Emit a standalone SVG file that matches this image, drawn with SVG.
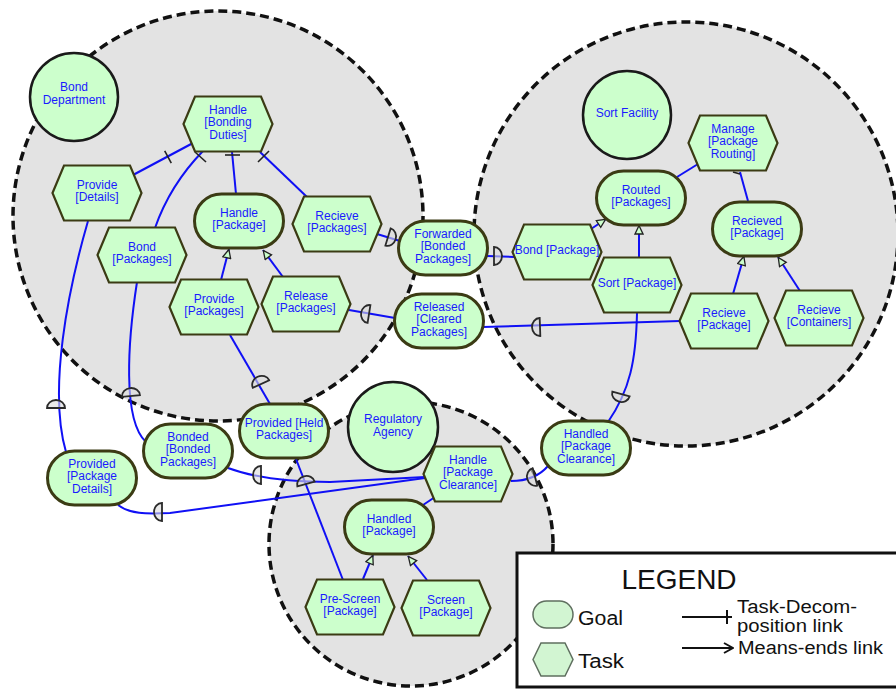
<svg xmlns="http://www.w3.org/2000/svg" xmlns:xlink="http://www.w3.org/1999/xlink" width="896" height="689" viewBox="0 0 896 689">
<style>
.bnd{fill:#e3e3e3;stroke:#111;stroke-width:3.5;stroke-dasharray:9 5}
.act{fill:#ccffcc;stroke:#1a1a1a;stroke-width:2.5}
.lk{fill:none;stroke:#1010f5;stroke-width:2}
.tk{fill:none;stroke:#222;stroke-width:1.6}
.t{font-family:"Liberation Sans",Arial,sans-serif;font-size:12px;fill:#1a1aff;text-anchor:middle}
.lg{font-family:"Liberation Sans",Arial,sans-serif;fill:#111}
</style>
<defs>
<polygon id="hex" points="-44.5,0 -33,-27.5 33,-27.5 44.5,0 33,27.5 -33,27.5" fill="#ccffcc" stroke="#3b3b14" stroke-width="2.2"/>
<rect id="goal" x="-44.5" y="-27" width="89" height="54" rx="27" fill="#ccffcc" stroke="#3b3b14" stroke-width="3"/>
<path id="dep" d="M0,-9 A8,9 0 0 1 0,9 Z" fill="#dcdcdc" fill-opacity="0.6" stroke="#2a2a2a" stroke-width="1.8"/>
<marker id="me" viewBox="0 0 10 10" refX="10" refY="5" markerWidth="10" markerHeight="10" markerUnits="userSpaceOnUse" orient="auto">
<path d="M1,1 L9.5,5 L1,9 Z" fill="#ccffcc" stroke="#222" stroke-width="1.3"/>
</marker>
<marker id="lgarrow" viewBox="0 0 12 12" refX="11" refY="6" markerWidth="12" markerHeight="12" markerUnits="userSpaceOnUse" orient="auto">
<path d="M2,1 L11,6 L2,11" fill="none" stroke="#111" stroke-width="2"/>
</marker>
</defs>

<g id="boundaries">
<circle class="bnd" cx="218" cy="216" r="205"/>
<circle class="bnd" cx="686" cy="234" r="212"/>
<circle class="bnd" cx="411" cy="544" r="142"/>
</g>

<g id="connectors">
<!-- task decomposition -->
<path class="lk" d="M133,175 L193,143"/>
<path class="lk" d="M155,228 Q170,185 203,151"/>
<path class="lk" d="M236,194 L232,152"/>
<path class="lk" d="M307,197 L260,152"/>
<path class="lk" d="M677,177 L698,164"/>
<path class="lk" d="M748,201 L740,172"/>
<path class="lk" d="M435,497 L423,505"/>
<path class="tk" d="M164.7,150.8 L171.3,163.2"/>
<path class="tk" d="M195,152 L206,162"/>
<path class="tk" d="M225,155 L240,155"/>
<path class="tk" d="M258,162 L269,151"/>
<path class="tk" d="M733,172 L740,174"/>
<!-- means-ends -->
<path class="lk" d="M221,280 L229,249" marker-end="url(#me)"/>
<path class="lk" d="M283,277 L263,250" marker-end="url(#me)"/>
<path class="lk" d="M591,229 L606,219" marker-end="url(#me)"/>
<path class="lk" d="M639,258 L639,225" marker-end="url(#me)"/>
<path class="lk" d="M733,294 L744,256" marker-end="url(#me)"/>
<path class="lk" d="M800,291 L778,257" marker-end="url(#me)"/>
<path class="lk" d="M363,579 L373,555" marker-end="url(#me)"/>
<path class="lk" d="M427,580 L408,556" marker-end="url(#me)"/>
<!-- dependencies -->
<path class="lk" d="M88,221 C68,290 48,390 66,452"/>
<path class="lk" d="M137,282 C128,340 122,420 146,442"/>
<path class="lk" d="M230,335 L270,404"/>
<path class="lk" d="M296,459 L343,580"/>
<path class="lk" d="M228,468 C255,478 290,482 330,482 L425,477"/>
<path class="lk" d="M118,505 C130,514 145,514 170,513 L425,478"/>
<path class="lk" d="M637,313 C636,360 630,390 608,422"/>
<path class="lk" d="M548,466 Q535,481 511,481"/>
<path class="lk" d="M483,327 L680,321"/>
<path class="lk" d="M349,310 L395,318"/>
<path class="lk" d="M377,234 L400,241"/>
<path class="lk" d="M487,256 L514,257"/>
<use xlink:href="#dep" transform="translate(56,408) rotate(-90)"/>
<use xlink:href="#dep" transform="translate(131,396) rotate(-95)"/>
<use xlink:href="#dep" transform="translate(261,384) rotate(-115)"/>
<use xlink:href="#dep" transform="translate(306,484) rotate(-105)"/>
<use xlink:href="#dep" transform="translate(261,475) rotate(180)"/>
<use xlink:href="#dep" transform="translate(162,512) rotate(180)"/>
<use xlink:href="#dep" transform="translate(621,394) rotate(105)"/>
<use xlink:href="#dep" transform="translate(535,477) rotate(165)"/>
<use xlink:href="#dep" transform="translate(388,237) rotate(17)"/>
<use xlink:href="#dep" transform="translate(494,256) rotate(0)"/>
<use xlink:href="#dep" transform="translate(369,314) rotate(-171)"/>
<use xlink:href="#dep" transform="translate(540,327) rotate(178)"/>
</g>

<g id="bond_department">
<circle class="act" cx="74" cy="97" r="44"/>
<text class="t"><tspan x="74" y="91">Bond</tspan><tspan x="74" y="104">Department</tspan></text>
</g>
<g id="sort_facility">
<circle class="act" cx="627" cy="115" r="44"/>
<text class="t" x="627" y="117">Sort Facility</text>
</g>
<g id="regulatory_agency">
<circle class="act" cx="393" cy="427" r="45"/>
<text class="t"><tspan x="393" y="422.5">Regulatory</tspan><tspan x="393" y="436">Agency</tspan></text>
</g>

<g id="handle_bonding_duties">
<use xlink:href="#hex" x="228" y="124"/>
<text class="t"><tspan x="228" y="113.5">Handle</tspan><tspan x="228" y="126">[Bonding</tspan><tspan x="228" y="138.5">Duties]</tspan></text>
</g>
<g id="provide_details">
<use xlink:href="#hex" x="97" y="193"/>
<text class="t"><tspan x="97" y="188.75">Provide</tspan><tspan x="97" y="201.25">[Details]</tspan></text>
</g>
<g id="bond_packages">
<use xlink:href="#hex" x="142" y="255"/>
<text class="t"><tspan x="142" y="250.75">Bond</tspan><tspan x="142" y="263.25">[Packages]</tspan></text>
</g>
<g id="recieve_packages">
<use xlink:href="#hex" x="337" y="224"/>
<text class="t"><tspan x="337" y="219.75">Recieve</tspan><tspan x="337" y="232.25">[Packages]</tspan></text>
</g>
<g id="provide_packages">
<use xlink:href="#hex" x="214" y="307"/>
<text class="t"><tspan x="214" y="302.75">Provide</tspan><tspan x="214" y="315.25">[Packages]</tspan></text>
</g>
<g id="release_packages">
<use xlink:href="#hex" x="306" y="304"/>
<text class="t"><tspan x="306" y="299.75">Release</tspan><tspan x="306" y="312.25">[Packages]</tspan></text>
</g>
<g id="bond_package">
<use xlink:href="#hex" x="557" y="252"/>
<text class="t" x="557" y="254">Bond [Package]</text>
</g>
<g id="sort_package">
<use xlink:href="#hex" x="637" y="285"/>
<text class="t" x="637" y="287">Sort [Package]</text>
</g>
<g id="manage_package_routing">
<use xlink:href="#hex" x="733" y="143"/>
<text class="t"><tspan x="733" y="132.5">Manage</tspan><tspan x="733" y="145">[Package</tspan><tspan x="733" y="157.5">Routing]</tspan></text>
</g>
<g id="recieve_package">
<use xlink:href="#hex" x="724" y="321"/>
<text class="t"><tspan x="724" y="316.75">Recieve</tspan><tspan x="724" y="329.25">[Package]</tspan></text>
</g>
<g id="recieve_containers">
<use xlink:href="#hex" x="819" y="318"/>
<text class="t"><tspan x="819" y="313.75">Recieve</tspan><tspan x="819" y="326.25">[Containers]</tspan></text>
</g>
<g id="handle_package_clearance">
<use xlink:href="#hex" x="468" y="474"/>
<text class="t"><tspan x="468" y="463.5">Handle</tspan><tspan x="468" y="476">[Package</tspan><tspan x="468" y="488.5">Clearance]</tspan></text>
</g>
<g id="pre_screen_package">
<use xlink:href="#hex" x="350" y="607"/>
<text class="t"><tspan x="350" y="602.75">Pre-Screen</tspan><tspan x="350" y="615.25">[Package]</tspan></text>
</g>
<g id="screen_package">
<use xlink:href="#hex" x="446" y="608"/>
<text class="t"><tspan x="446" y="603.75">Screen</tspan><tspan x="446" y="616.25">[Package]</tspan></text>
</g>

<g id="handle_package">
<use xlink:href="#goal" x="239" y="221"/>
<text class="t"><tspan x="239" y="216.75">Handle</tspan><tspan x="239" y="229.25">[Package]</tspan></text>
</g>
<g id="forwarded_bonded_packages">
<use xlink:href="#goal" x="443" y="248"/>
<text class="t"><tspan x="443" y="237.5">Forwarded</tspan><tspan x="443" y="250">[Bonded</tspan><tspan x="443" y="262.5">Packages]</tspan></text>
</g>
<g id="released_cleared_packages">
<use xlink:href="#goal" x="439" y="321"/>
<text class="t"><tspan x="439" y="310.5">Released</tspan><tspan x="439" y="323">[Cleared</tspan><tspan x="439" y="335.5">Packages]</tspan></text>
</g>
<g id="routed_packages">
<use xlink:href="#goal" x="641" y="198"/>
<text class="t"><tspan x="641" y="193.75">Routed</tspan><tspan x="641" y="206.25">[Packages]</tspan></text>
</g>
<g id="recieved_package">
<use xlink:href="#goal" x="757" y="229"/>
<text class="t"><tspan x="757" y="224.75">Recieved</tspan><tspan x="757" y="237.25">[Package]</tspan></text>
</g>
<g id="provided_package_details">
<use xlink:href="#goal" x="92" y="478"/>
<text class="t"><tspan x="92" y="467.5">Provided</tspan><tspan x="92" y="480">[Package</tspan><tspan x="92" y="492.5">Details]</tspan></text>
</g>
<g id="bonded_bonded_packages">
<use xlink:href="#goal" x="188" y="451"/>
<text class="t"><tspan x="188" y="440.5">Bonded</tspan><tspan x="188" y="453">[Bonded</tspan><tspan x="188" y="465.5">Packages]</tspan></text>
</g>
<g id="provided_held_packages">
<use xlink:href="#goal" x="284" y="431"/>
<text class="t"><tspan x="284" y="426.75">Provided [Held</tspan><tspan x="284" y="439.25">Packages]</tspan></text>
</g>
<g id="handled_package_clearance">
<use xlink:href="#goal" x="586" y="448"/>
<text class="t"><tspan x="586" y="437.5">Handled</tspan><tspan x="586" y="450">[Package</tspan><tspan x="586" y="462.5">Clearance]</tspan></text>
</g>
<g id="handled_package">
<use xlink:href="#goal" x="389" y="527"/>
<text class="t"><tspan x="389" y="522.75">Handled</tspan><tspan x="389" y="535.25">[Package]</tspan></text>
</g>

<g id="legend">
<rect x="517" y="553" width="400" height="134" fill="#fff" stroke="#111" stroke-width="3"/>
<text class="lg" x="679" y="589" font-size="28" text-anchor="middle">LEGEND</text>
<rect x="533" y="601" width="40" height="27" rx="13.5" fill="#d2f5d2" stroke="#5f6f5f" stroke-width="1.5"/>
<text class="lg" x="578" y="625" font-size="20" textLength="45" lengthAdjust="spacingAndGlyphs">Goal</text>
<polygon points="533,659.5 541,643 565,643 573,659.5 565,676 541,676" fill="#d2f5d2" stroke="#5f6f5f" stroke-width="1.5"/>
<text class="lg" x="578" y="668" font-size="20" textLength="46" lengthAdjust="spacingAndGlyphs">Task</text>
<path d="M682,617 L732,617 M727,610 L727,624" fill="none" stroke="#111" stroke-width="2"/>
<text class="lg" x="737" y="613" font-size="18" textLength="120" lengthAdjust="spacingAndGlyphs">Task-Decom-</text>
<text class="lg" x="737" y="632" font-size="18" textLength="106" lengthAdjust="spacingAndGlyphs">position link</text>
<path d="M682,648 L733,648" fill="none" stroke="#111" stroke-width="2" marker-end="url(#lgarrow)"/>
<text class="lg" x="738" y="654" font-size="18" textLength="145" lengthAdjust="spacingAndGlyphs">Means-ends link</text>
</g>
</svg>
